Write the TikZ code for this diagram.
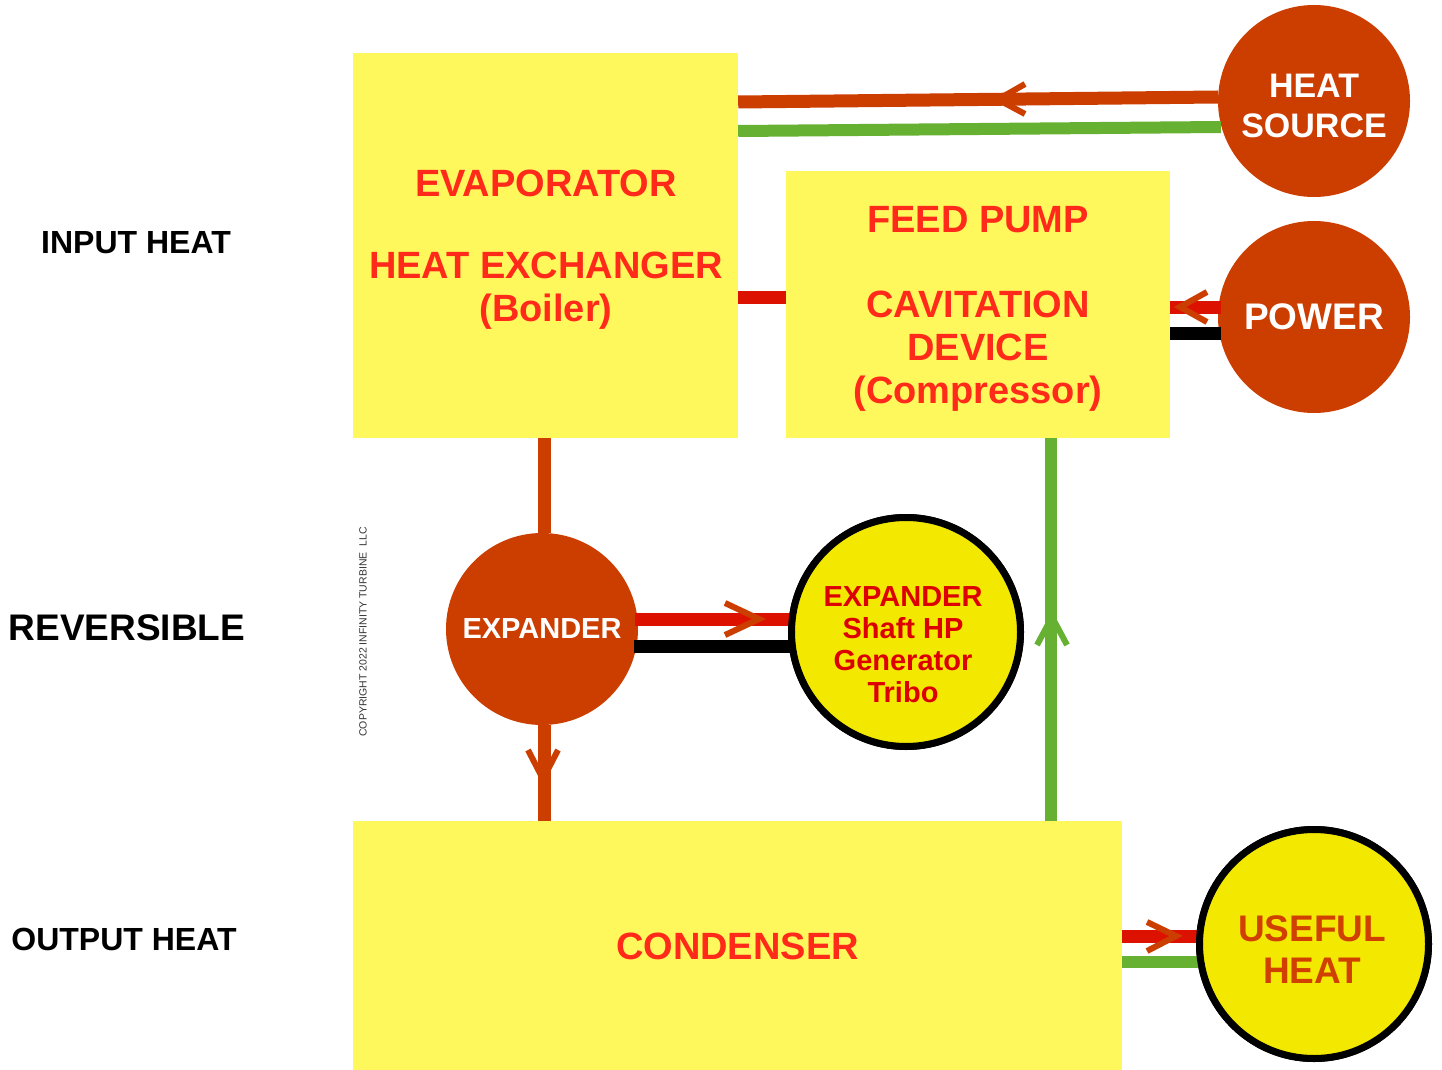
\documentclass[tikz,border=0pt]{standalone}
\usepackage{fontspec}
\setmainfont{Liberation Sans}
\begin{document}
\begin{tikzpicture}[x=1pt,y=-1pt,
  box/.style={fill=boxyellow,draw=none,inner sep=0pt,align=center,text=boxtext,font=\fontsize{38}{43}\selectfont\bfseries},
  boxtxt/.style={inner sep=0pt,align=center,text=boxtext,font=\fontsize{38}{43}\selectfont\bfseries},
  hotcirc/.style={circle,fill=hot,draw=none,inner sep=0pt,minimum size=192pt,align=center,text=white},
  yelcirc/.style={circle,fill=circyellow,draw=black,line width=7pt,inner sep=0pt,align=center},
  pipe/.style={line width=13pt},
  chev/.style={line width=6pt,draw=hot,line cap=butt,line join=miter},
  side/.style={font=\bfseries,anchor=center}]
\definecolor{boxyellow}{HTML}{FFF85C}
\definecolor{circyellow}{HTML}{F2E800}
\definecolor{hot}{HTML}{CC3D00}
\definecolor{redline}{HTML}{DD1100}
\definecolor{greenline}{HTML}{66B032}
\definecolor{boxtext}{HTML}{FF2A1A}
\definecolor{exptext}{HTML}{DD0000}
\definecolor{usetext}{HTML}{D04000}
\useasboundingbox (0,0) rectangle (1442,1070);

% boxes
\node[box,minimum width=385pt,minimum height=385pt] (evap) at (545.5,245.5) {};
\node[boxtxt] (evaptitle) at (546,183) {EVAPORATOR};
\node[boxtxt] (evaptxt) at (546,291) {HEAT EXCHANGER\\(Boiler)};
\node[box,minimum width=384pt,minimum height=267pt] (pump) at (978,304.5) {};
\node[boxtxt] (pumptitle) at (978,220) {FEED PUMP};
\node[boxtxt] (pumptxt) at (978,351.5) {CAVITATION\\DEVICE\\(Compressor)};
\node[box,minimum width=769pt,minimum height=249pt] (cond) at (737.5,945.5) {};
\node[boxtxt] (condtxt) at (737.5,946) {CONDENSER};

% circles
\node[hotcirc] (hs) at (1314,101) {};
\node[text=white,align=center,inner sep=0pt,font=\fontsize{34}{40}\selectfont\bfseries] (hstxt) at (1314,106) {HEAT\\SOURCE};
\node[hotcirc,font=\fontsize{37}{43}\selectfont\bfseries] (pw) at (1314,317) {POWER};
\node[hotcirc,font=\fontsize{29}{32}\selectfont\bfseries] (exp) at (542,629) {EXPANDER};
\node[yelcirc,minimum size=229pt] (shaft) at (906,632) {};
\node[yelcirc,minimum size=229pt] (use) at (1314,944) {};

% side labels
\node[side,font=\fontsize{32}{36}\selectfont\bfseries] (l1) at (136,243) {INPUT HEAT};
\node[side,font=\fontsize{37}{40}\selectfont\bfseries] (l2) at (127,628) {REVERSIBLE};
\node[side,font=\fontsize{32}{36}\selectfont\bfseries] (l3) at (124,939) {OUTPUT HEAT};
\node[rotate=90,font=\fontsize{10.5}{12}\selectfont,text=black!80] (copy) at (363,632) {COPYRIGHT 2022 INFINITY TURBINE\ \ LLC};

% pipes: heat source
\draw[pipe,draw=hot] (evap.east |- 0,102) -- (hs.west |- 0,97);
\draw[pipe,line width=12pt,draw=greenline] (evap.east |- 0,131) -- ([xshift=3pt]hs.west |- 0,127);
\draw[chev] (1025,84) -- (998,99.5) -- (1025,114);
% evap to pump
\draw[pipe,draw=redline] (evap.east |- 0,297) -- (pump.west |- 0,297);
% power
\draw[pipe,draw=redline] (pump.east |- 0,307) -- ([xshift=3pt]pw.west |- 0,307);
\draw[pipe,draw=black] (pump.east |- 0,333) -- ([xshift=3pt]pw.west |- 0,333);
\draw[chev] (1207,292) -- (1180,307) -- (1207,322);
% evap to expander
\draw[pipe,draw=hot] (evap.south -| exp) ++(2,0) -- ([xshift=2pt]exp.north);
\draw[pipe,draw=hot] ([xshift=2pt]exp.south) -- ([xshift=2pt]cond.north -| exp);
\draw[chev] (528,750) -- (543,779) -- (558,750);
% expander to shaft
\draw[pipe,draw=redline] ([xshift=-3pt]exp.east |- 0,619) -- ([xshift=2pt]shaft.west |- 0,619);
\draw[pipe,draw=black] ([xshift=-4pt]exp.east |- 0,646) -- ([xshift=2pt]shaft.west |- 0,646);
\draw[chev] (725,603) -- (759,619) -- (725,635);
% condenser to pump
\draw[pipe,line width=12pt,draw=greenline] (cond.north -| 1051,0) -- (pump.south -| 1051,0);
\draw[chev,draw=greenline] (1037,645) -- (1052,617) -- (1067,645);
% condenser to useful heat
\draw[pipe,draw=redline] (cond.east |- 0,936) -- ([xshift=3pt]use.west |- 0,936);
\draw[pipe,line width=12pt,draw=greenline] (cond.east |- 0,962) -- ([xshift=3pt]use.west |- 0,962);
\draw[chev] (1147,922) -- (1176,936) -- (1147,951);
% circles on top of pipe ends
\node[yelcirc,minimum size=229pt] (shafttop) at (shaft) {};
\node[text=exptext,align=center,inner sep=0pt,font=\fontsize{29}{32}\selectfont\bfseries] (shafttxt) at (903,645) {EXPANDER\\Shaft HP\\Generator\\Tribo};
\node[yelcirc,minimum size=229pt] (usetop) at (use) {};
\node[text=usetext,align=center,inner sep=0pt,font=\fontsize{37}{42}\selectfont\bfseries] (usetxt) at (1312,950) {USEFUL\\HEAT};
\end{tikzpicture}
\end{document}
